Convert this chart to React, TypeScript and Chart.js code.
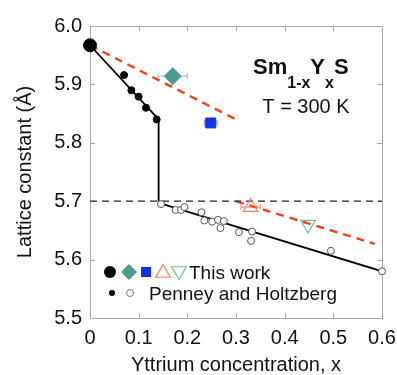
import { useEffect, useRef } from "react";
import { Chart, registerables } from "chart.js";

Chart.register(...registerables);

const FONT = '"Liberation Sans", Arial, Helvetica, sans-serif';

// Axis ranges and tick steps
const xRange = [0, 0.6];
const yRange = [5.5, 6.0];
const tickStep = 0.1;

// Penney and Holtzberg: filled (collapsed) and open (trivalent) samples
const phFilledX = [0.07, 0.085, 0.1, 0.115, 0.137];
const phFilledY = [5.916, 5.89, 5.879, 5.86, 5.84];
const phOpenX = [0.146, 0.176, 0.187, 0.194, 0.229, 0.235, 0.251, 0.263, 0.275, 0.268, 0.306, 0.333, 0.331, 0.495, 0.6];
const phOpenY = [5.695, 5.685, 5.685, 5.69, 5.681, 5.667, 5.665, 5.668, 5.666, 5.654, 5.647, 5.648, 5.632, 5.615, 5.58];

// This work
const pureX = [0];
const pureY = [5.967];
const diamondX = [0.17];
const diamondY = [5.914];
const diamondErr = [0.03];
const squareX = [0.248];
const squareY = [5.834];
const squareErr = [0.013];
const triUpX = [0.33];
const triUpY = [5.69];
const triUpErr = [0.02];
const triDownX = [0.448];
const triDownY = [5.66];

// Guide lines
const phLineX = [0, 0.141, 0.141, 0.6];
const phLineY = [5.967, 5.84, 5.697, 5.58];
const refLineX = [0, 0.6];
const refLineY = [5.7, 5.7];
const trendHighX = [0, 0.3];
const trendHighY = [5.967, 5.84];
const trendLowX = [0.3, 0.585];
const trendLowY = [5.7, 5.627];

const TEAL = "#4b9b94";
const BLUE = "#1432e6";
const SALMON = "#f4806e";
const GREEN = "#6cc284";
const RED = "#f2411d";

const pts = (xs: number[], ys: number[]) => xs.map((x, i) => ({ x, y: ys[i] }));

function shape(ctx: CanvasRenderingContext2D, kind: string, x: number, y: number, r: number, fill: string | null, stroke: string | null, lw = 1.2) {
  ctx.save();
  ctx.beginPath();
  if (kind === "circle") {
    ctx.arc(x, y, r, 0, Math.PI * 2);
  } else if (kind === "diamond") {
    ctx.moveTo(x, y - r);
    ctx.lineTo(x + r, y);
    ctx.lineTo(x, y + r);
    ctx.lineTo(x - r, y);
    ctx.closePath();
  } else if (kind === "square") {
    ctx.rect(x - r, y - r, 2 * r, 2 * r);
  } else if (kind === "triUp" || kind === "triDown") {
    const s = kind === "triUp" ? 1 : -1;
    ctx.moveTo(x, y - s * r);
    ctx.lineTo(x + r * 0.866, y + s * r * 0.5);
    ctx.lineTo(x - r * 0.866, y + s * r * 0.5);
    ctx.closePath();
  }
  if (fill) {
    ctx.fillStyle = fill;
    ctx.fill();
  }
  if (stroke) {
    ctx.strokeStyle = stroke;
    ctx.lineWidth = lw;
    ctx.stroke();
  }
  ctx.restore();
}

const framePlugin = {
  id: "frame",
  beforeDatasetsDraw(chart: any) {
    const { ctx, chartArea: a, scales } = chart;
    ctx.save();
    ctx.strokeStyle = "#a8a8a8";
    ctx.lineWidth = 1;
    ctx.strokeRect(a.left + 0.5, a.top + 0.5, a.right - a.left, a.bottom - a.top);
    const len = 5;
    ctx.beginPath();
    for (let v = xRange[0] + tickStep; v < xRange[1] - 1e-9; v += tickStep) {
      const px = Math.round(scales.x.getPixelForValue(v)) + 0.5;
      ctx.moveTo(px, a.bottom);
      ctx.lineTo(px, a.bottom - len);
      ctx.moveTo(px, a.top);
      ctx.lineTo(px, a.top + len);
    }
    for (let v = yRange[0] + tickStep; v < yRange[1] - 1e-9; v += tickStep) {
      const py = Math.round(scales.y.getPixelForValue(v)) + 0.5;
      ctx.moveTo(a.left, py);
      ctx.lineTo(a.left + len, py);
      ctx.moveTo(a.right, py);
      ctx.lineTo(a.right - len, py);
    }
    ctx.stroke();

    // horizontal error bars
    chart.data.datasets.forEach((ds: any) => {
      if (!ds.xErr) return;
      ctx.strokeStyle = ds.errColor;
      ctx.lineWidth = 1.2;
      ds.data.forEach((p: any, i: number) => {
        const e = ds.xErr[i];
        const x0 = scales.x.getPixelForValue(p.x - e);
        const x1 = scales.x.getPixelForValue(p.x + e);
        const py = scales.y.getPixelForValue(p.y);
        ctx.beginPath();
        ctx.moveTo(x0, py);
        ctx.lineTo(x1, py);
        ctx.moveTo(x0, py - 3);
        ctx.lineTo(x0, py + 3);
        ctx.moveTo(x1, py - 3);
        ctx.lineTo(x1, py + 3);
        ctx.stroke();
      });
    });
    ctx.restore();
  },
};

const textPlugin = {
  id: "labels",
  afterDraw(chart: any) {
    const { ctx } = chart;
    ctx.save();
    ctx.fillStyle = "#111";
    ctx.textAlign = "left";
    ctx.textBaseline = "alphabetic";
    // compound formula
    const big = `bold 22px ${FONT}`;
    const small = `bold 16px ${FONT}`;
    const parts: [string, string, number][] = [
      ["Sm", big, 0],
      ["1-x", small, 14],
      ["Y", big, 0],
      ["x", small, 14],
      ["S", big, 0],
    ];
    let x = 253;
    for (const [t, f, dy] of parts) {
      ctx.font = f;
      ctx.fillText(t, x, 74 + dy);
      x += ctx.measureText(t).width;
    }
    ctx.font = `20px ${FONT}`;
    ctx.textAlign = "center";
    ctx.fillText("T = 300 K", 306, 113);

    // key
    const r1 = 272;
    shape(ctx, "circle", 110, r1, 6, "#000", null);
    shape(ctx, "diamond", 129, r1, 8, TEAL, null);
    shape(ctx, "square", 146, r1, 5, BLUE, null);
    shape(ctx, "triUp", 163, r1 + 1, 8.5, null, SALMON);
    shape(ctx, "triDown", 179, r1 - 1, 8.5, null, GREEN);
    const r2 = 293;
    shape(ctx, "circle", 112, r2, 3, "#000", null);
    shape(ctx, "circle", 130, r2, 3.5, "#fff", "#777", 1);
    ctx.fillStyle = "#111";
    ctx.textAlign = "left";
    ctx.font = `19px ${FONT}`;
    ctx.fillText("This work", 189, 279);
    ctx.fillText("Penney and Holtzberg", 149, 300);
    ctx.restore();
  },
};

export default function App() {
  const ref = useRef<HTMLCanvasElement>(null);

  useEffect(() => {
    if (!ref.current) return;
    const chart = new Chart(ref.current, {
      type: "scatter",
      data: {
        datasets: [
          {
            data: pts(pureX, pureY),
            pointStyle: "circle",
            pointRadius: 6.5,
            backgroundColor: "#000",
            borderColor: "#000",
            clip: false,
          } as any,
          {
            data: pts(diamondX, diamondY),
            pointStyle: "rectRot",
            pointRadius: 8.5,
            backgroundColor: TEAL,
            borderColor: TEAL,
            xErr: diamondErr,
            errColor: "#9fd0cb",
          },
          {
            data: pts(squareX, squareY),
            pointStyle: "rect",
            pointRadius: 7,
            backgroundColor: BLUE,
            borderColor: BLUE,
            xErr: squareErr,
            errColor: "#8f9ff0",
          },
          {
            data: pts(triUpX, triUpY),
            pointStyle: "triangle",
            pointRadius: 8.5,
            backgroundColor: "rgba(255,255,255,0)",
            borderColor: SALMON,
            borderWidth: 1.2,
            xErr: triUpErr,
            errColor: "#f4a090",
          },
          {
            data: pts(triDownX, triDownY),
            pointStyle: "triangle",
            rotation: 180,
            pointRadius: 8.5,
            backgroundColor: "rgba(255,255,255,0)",
            borderColor: GREEN,
            borderWidth: 1.2,
          },
          {
            data: pts(phFilledX, phFilledY),
            pointRadius: 3.5,
            backgroundColor: "#000",
            borderColor: "#000",
          },
          {
            data: pts(phOpenX, phOpenY),
            pointRadius: 3.5,
            backgroundColor: "#fff",
            borderColor: "#555",
            borderWidth: 1,
            clip: false,
          } as any,
          {
            data: pts(phLineX, phLineY),
            showLine: true,
            pointRadius: 0,
            borderColor: "#000",
            borderWidth: 1.8,
          },
          {
            data: pts(refLineX, refLineY),
            showLine: true,
            pointRadius: 0,
            borderColor: "#222",
            borderWidth: 1.2,
            borderDash: [7, 5],
          },
          {
            data: pts(trendHighX, trendHighY),
            showLine: true,
            pointRadius: 0,
            borderColor: RED,
            borderWidth: 2.4,
            borderDash: [8, 6],
          },
          {
            data: pts(trendLowX, trendLowY),
            showLine: true,
            pointRadius: 0,
            borderColor: RED,
            borderWidth: 2.4,
            borderDash: [8, 6],
          },
        ] as any,
      },
      options: {
        animation: false,
        responsive: false,
        devicePixelRatio: 1,
        layout: { padding: { top: 26, right: 15, left: 0, bottom: 0 } },
        plugins: { legend: { display: false }, tooltip: { enabled: false } },
        scales: {
          x: {
            type: "linear",
            min: xRange[0],
            max: xRange[1],
            afterFit: (s: any) => {
              s.height = 57;
              s.paddingLeft = 0;
              s.paddingRight = 0;
            },
            grid: { display: false, drawTicks: false },
            border: { display: false },
            ticks: {
              stepSize: tickStep,
              maxRotation: 0,
              padding: 8,
              color: "#111",
              font: { family: FONT, size: 20 },
              callback: (v: any) => (Math.abs(v) < 1e-9 ? "0" : Number(v).toFixed(1)),
            },
            title: {
              display: true,
              text: "Yttrium concentration, x",
              color: "#111",
              font: { family: FONT, size: 20, lineHeight: 1 },
              padding: { top: 0, bottom: 0 },
            },
          },
          y: {
            type: "linear",
            min: yRange[0],
            max: yRange[1],
            afterFit: (s: any) => {
              s.width = 90;
              s.paddingTop = 0;
              s.paddingBottom = 0;
            },
            grid: { display: false, drawTicks: false },
            border: { display: false },
            ticks: {
              stepSize: tickStep,
              padding: 8,
              color: "#111",
              font: { family: FONT, size: 20 },
              callback: (v: any) => Number(v).toFixed(1),
            },
            title: {
              display: true,
              text: "Lattice constant (Å)",
              color: "#111",
              font: { family: FONT, size: 20, lineHeight: 1 },
              padding: { top: 15, bottom: 0 },
            },
          },
        },
      },
      plugins: [framePlugin, textPlugin],
    });
    return () => chart.destroy();
  }, []);

  return (
    <div style={{ position: "absolute", left: 0, top: 0, width: 397, height: 375, background: "#fff" }}>
      <canvas ref={ref} width={397} height={375} style={{ width: 397, height: 375 }} />
    </div>
  );
}
